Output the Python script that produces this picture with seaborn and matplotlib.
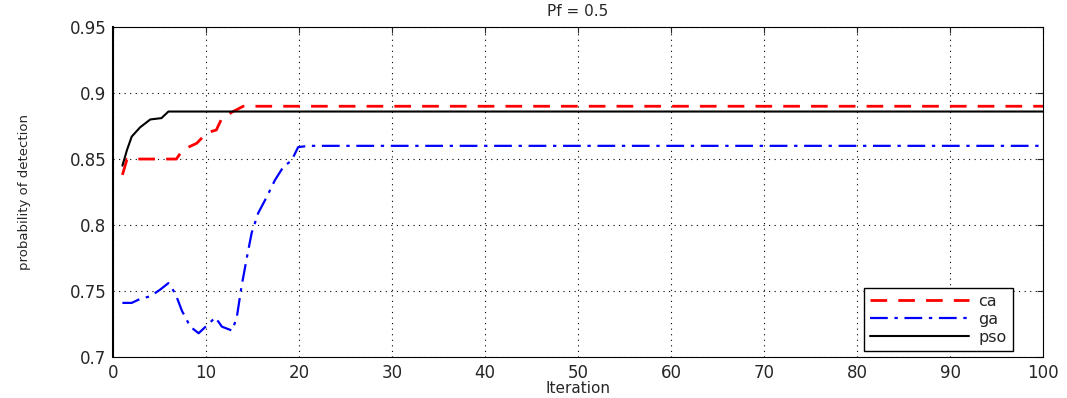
import pandas as pd
import numpy as np
import matplotlib
matplotlib.use("Agg")
import matplotlib.pyplot as plt
import seaborn as sns

sns.set_style("white")
plt.rcParams['font.family'] = ['DejaVu Sans']

# breakpoints
ca_x = [1, 1.5, 6.8, 7.5, 9.0, 10.1, 11.1, 11.7, 12.9, 14.0, 100]
ca_y = [0.838, 0.850, 0.850, 0.857, 0.862, 0.870, 0.872, 0.881, 0.886, 0.890, 0.890]

ga_x = [1, 2, 2.9, 4, 5.05, 5.95, 6.7, 7.4, 8.3, 9.2, 10.1, 11.0, 11.7, 12.8, 13.3,
        13.8, 14.4, 14.9, 15.6, 16.5, 17.4, 18.3, 19.2, 19.9, 21, 100]
ga_y = [0.741, 0.741, 0.744, 0.746, 0.751, 0.756, 0.748, 0.735, 0.723, 0.718, 0.724,
        0.730, 0.723, 0.720, 0.730, 0.753, 0.776, 0.794, 0.809, 0.821, 0.834, 0.844,
        0.849, 0.859, 0.860, 0.860]

pso_x = [1, 1.5, 2.0, 2.9, 4.0, 5.2, 5.95, 100]
pso_y = [0.845, 0.857, 0.867, 0.874, 0.880, 0.881, 0.886, 0.886]

df = pd.concat([
    pd.DataFrame({'Iteration': ca_x, 'pd': ca_y, 'algo': 'ca'}),
    pd.DataFrame({'Iteration': ga_x, 'pd': ga_y, 'algo': 'ga'}),
    pd.DataFrame({'Iteration': pso_x, 'pd': pso_y, 'algo': 'pso'}),
])

fig = plt.figure(figsize=(10.67, 3.98), dpi=100)
ax = fig.add_axes([0.106, 0.103, 0.8715, 0.829])

styles = {'ca': dict(color='red', ls=(0, (6, 4)), lw=2.0),
          'ga': dict(color='blue', ls=(0, (8, 3, 1.5, 3)), lw=1.6),
          'pso': dict(color='black', ls='-', lw=1.5)}

for name, g in df.groupby('algo'):
    sns.lineplot(data=g, x='Iteration', y='pd', ax=ax, sort=False, estimator=None,
                 label=name, color=styles[name]['color'],
                 linestyle=styles[name]['ls'], linewidth=styles[name]['lw'])

ax.set_xlim(0, 100)
ax.set_ylim(0.7, 0.95)
ax.set_xticks(np.arange(0, 101, 10))
ax.set_yticks([0.7, 0.75, 0.8, 0.85, 0.9, 0.95])
ax.set_yticklabels(['0.7', '0.75', '0.8', '0.85', '0.9', '0.95'])
ax.grid(True, color='black', linestyle=(0, (1, 4)), linewidth=0.8)
ax.tick_params(direction='in', labelsize=12, length=4, top=True, right=True, pad=5)
for s in ax.spines.values():
    s.set_color('black')
    s.set_linewidth(0.8)
ax.spines['left'].set_linewidth(1.5)

ax.set_title('Pf = 0.5', fontsize=11, pad=8)
ax.set_xlabel('Iteration', fontsize=11, labelpad=-1)
ax.set_ylabel('probability of detection', fontsize=9.5)
ax.yaxis.set_label_coords(-0.088, 0.5)

leg = ax.legend(loc='lower right', bbox_to_anchor=(0.968, 0.018), fontsize=11.5,
                handlelength=6.2, handletextpad=0.6, labelspacing=0.18,
                fancybox=False, framealpha=1, borderaxespad=0, borderpad=0.4)
leg.get_frame().set_edgecolor('black')
leg.get_frame().set_linewidth(1.0)

fig.savefig('out.png', dpi=100)
